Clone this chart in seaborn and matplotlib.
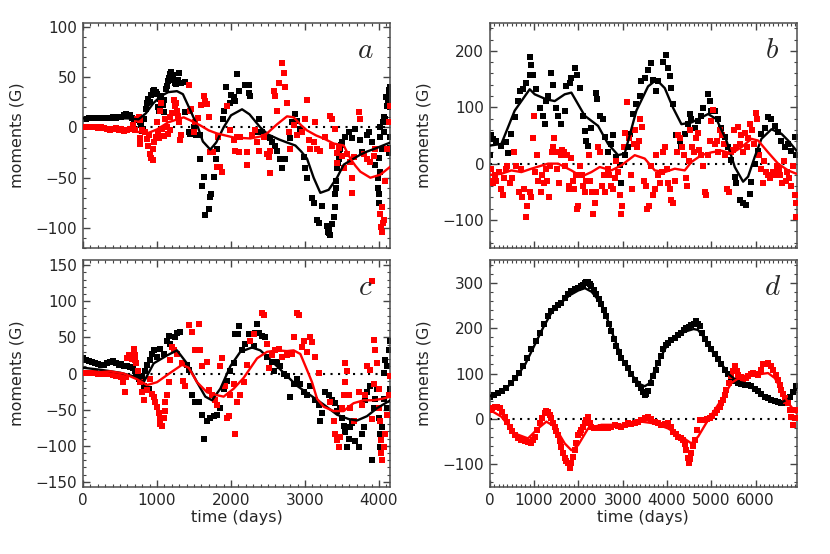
import numpy as np
import pandas as pd
import matplotlib
matplotlib.use("Agg")
import matplotlib.pyplot as plt
from matplotlib.ticker import MultipleLocator
import seaborn as sns

# ---- panel a (days / G) ----
a_black_pts = [(0, 8), (40, 8), (80, 9), (120, 9), (160, 9), (200, 9), (240, 9), (280, 9), (320, 9), (360, 9),
               (400, 10), (440, 9), (480, 10), (520, 10), (560, 12), (580, 13), (600, 11), (630, 12), (660, 9),
               (690, 8), (720, 7), (750, 8), (770, 5), (790, 2), (800, -4), (815, -2), (830, 8), (845, 18),
               (860, 24), (880, 28), (900, 25), (920, 32), (940, 36), (960, 37), (980, 35), (1000, 33), (1020, 20),
               (1030, 16), (1045, 28), (1060, 31), (1075, 22), (1090, 15), (1100, 27), (1115, 38), (1130, 41),
               (1150, 46), (1165, 49), (1180, 53), (1195, 55), (1210, 52), (1225, 47), (1240, 44), (1260, 43),
               (1280, 47), (1300, 54), (1320, 44), (1380, 45), (1380, 15), (1430, -5), (1450, -7), (1470, -5),
               (1495, 0), (1530, -8), (1576, -8), (1575, -31), (1610, -58), (1630, -49), (1650, -87), (1700, -81),
               (1720, -69), (1730, -66), (1774, -49), (1800, -31), (1810, -21), (1890, 8), (1910, 16), (1930, 40),
               (1980, 24), (2000, 32), (2035, 30), (2080, 53), (2058, 26), (2112, 36), (2193, 42), (2238, 42),
               (2238, 34), (2260, 31), (2373, 8), (2350, -5), (2418, -5), (2463, -8), (2486, -10), (2531, -11),
               (2553, -15), (2598, -18), (2621, -23), (2666, -31), (2689, -40), (2733, -31), (2801, -11), (2824, 5),
               (2869, 13), (2891, 6), (2936, -2), (2981, -29), (3004, -40), (3027, -50), (3094, -70), (3117, -75),
               (3162, -92), (3184, -95), (3229, -78), (3300, -98), (3310, -104), (3319, -102), (3330, -105),
               (3342, -107), (3364, -96), (3387, -89), (3400, -79), (3409, -66), (3415, -60), (3423, -53),
               (3432, -40), (3440, -35), (3454, -31), (3465, -25), (3477, -21), (3490, -17), (3500, -15),
               (3545, -10), (3590, -5), (3635, -11), (3680, -2), (3747, -13), (3770, -24), (3837, -8), (3860, -5),
               (3905, -15), (3927, -28), (3950, -37), (3986, -50), (3990, -60), (3995, -66), (4004, -75),
               (4000, -30), (4010, -10), (4018, -44), (4020, 0), (4040, -21), (4050, 5), (4063, -5), (4070, 10),
               (4085, 8), (4100, 30), (4108, 21), (4120, 25), (4130, 37), (4140, 31), (4145, 40), (4150, 20),
               (4150, -20), (4145, -10), (4130, -25)]
a_red_pts = [(0, 0), (40, 0), (80, 0), (120, 0), (160, 0), (200, -1), (240, 0), (280, -1), (320, -2), (360, -3),
             (400, -2), (440, -1), (480, -3), (520, -2), (560, -4), (600, -3), (640, -2), (680, 2), (700, -3),
             (730, 8), (750, 10), (770, 7), (765, -11), (765, -16), (800, -3), (840, -5), (860, -12), (880, -18),
             (890, -8), (910, -26), (925, -30), (940, -32), (950, -21), (960, -15), (980, -10), (1000, 5),
             (1010, -5), (1030, -11), (1045, 16), (1060, 24), (1070, -2), (1090, -9), (1110, 8), (1130, 0),
             (1150, -7), (1170, 10), (1180, -3), (1200, 14), (1230, 27), (1240, 21), (1255, 24), (1265, 16),
             (1280, 11), (1300, 5), (1315, -13), (1330, -8), (1430, 42), (1450, 16), (1460, 18), (1500, -5),
             (1520, 5), (1560, 9), (1600, 22), (1630, 31), (1650, 26), (1670, 23), (1700, 10), (1720, -24),
             (1760, -24), (1810, -39), (1856, -39), (1830, -10), (1880, -44), (1946, 21), (1980, -3), (2035, -13),
             (2050, -23), (2080, -10), (2103, -24), (2126, -10), (2216, -24), (2216, -37), (2283, -8), (2328, -3),
             (2350, -15), (2373, -23), (2441, -10), (2486, -26), (2508, -29), (2531, -23), (2531, -45), (2576, 36),
             (2598, 31), (2621, 16), (2643, 44), (2689, 64), (2711, 54), (2733, 40), (2756, 24), (2779, -5),
             (2801, -21), (2846, 2), (2891, -8), (2959, -5), (3004, 8), (3027, 27), (3049, -13), (3072, -21),
             (3117, -15), (3139, 5), (3162, -21), (3207, -23), (3274, -10), (3342, 11), (3364, 8), (3364, -18),
             (3409, -2), (3432, -25), (3432, -35), (3454, -20), (3500, -28), (3522, -40), (3567, -26), (3612, -34),
             (3635, -50), (3657, -29), (3635, -65), (3725, 15), (3747, 8), (3793, -26), (3837, -31), (3882, -34),
             (3927, -28), (3950, -21), (4018, -86), (4031, -99), (4040, -104), (4050, -95), (4063, -92),
             (4040, -79), (4085, -53), (4108, -21), (4130, 5), (4152, 21)]
a_black_line = [(0, 9), (400, 9), (600, 9), (750, 8), (850, 14), (950, 24), (1050, 31), (1150, 35), (1270, 36),
                (1350, 33), (1450, 17), (1554, 0), (1620, -14), (1720, -22), (1800, -15), (1900, 0), (2000, 12),
                (2149, 18), (2250, 13), (2396, 0), (2500, -7), (2650, -12), (2757, -15), (2870, -18), (2950, -24),
                (3027, -31), (3117, -50), (3207, -65), (3320, -62), (3432, -50), (3523, -37), (3658, -31),
                (3750, -27), (3838, -24), (3950, -21), (4018, -19), (4153, -15)]
a_red_line = [(0, 0), (300, 0), (550, -1), (700, -4), (865, -6), (1000, -2), (1150, 5), (1360, 10), (1450, 7),
              (1585, 2), (1700, -3), (1810, -6), (2036, -10), (2261, -11), (2400, -9), (2486, -6), (2621, 3),
              (2757, 11), (2847, 10), (2950, 2), (3027, -3), (3150, -8), (3252, -11), (3387, -16), (3523, -18),
              (3613, -31), (3680, -38), (3748, -44), (3883, -50), (4018, -47), (4153, -39)]

# ---- panel b ----
b_black_pts = [(0, 15), (20, 50), (75, 44), (150, 41), (263, 32), (376, 38), (414, 18), (489, 53), (564, 82),
               (640, 111), (677, 129), (752, 132), (828, 143), (903, 158), (918, 190), (940, 175), (978, 158),
               (1053, 132), (1129, 99), (1204, 85), (1241, 70), (1279, 111), (1317, 120), (1392, 161), (1430, 140),
               (1505, 99), (1542, 85), (1618, 70), (1693, 94), (1730, 137), (1806, 143), (1843, 152), (1919, 170),
               (1979, 158), (2031, 134), (2107, 85), (2144, 58), (2182, 41), (2220, 32), (2295, 64), (2408, 126),
               (2430, 114), (2483, 85), (2558, 79), (2596, 47), (2671, 20), (2746, 35), (2784, 50), (2859, 12),
               (2934, -3), (2972, -35), (3047, 15), (3122, 29), (3160, 53), (3235, 88), (3310, 105), (3386, 120),
               (3423, 146), (3499, 152), (3574, 167), (3649, 178), (3687, 149), (3762, 129), (3800, 146),
               (3912, 181), (3988, 193), (4025, 170), (4063, 155), (4101, 134), (4138, 105), (4213, 50), (4289, 41),
               (4326, 29), (4401, 53), (4477, 70), (4514, 88), (4552, 79), (4627, 64), (4703, 76), (4778, 85),
               (4816, 99), (4929, 123), (4966, 111), (5004, 94), (5079, 94), (5154, 79), (5229, 64), (5305, 47),
               (5380, 29), (5455, 6), (5530, -23), (5568, -35), (5643, -64), (5718, -70), (5793, -73), (5869, -53),
               (5906, -32), (5981, 0), (6057, 23), (6132, 53), (6207, 64), (6282, 82), (6358, 79), (6433, 67),
               (6508, 56), (6583, 41), (6659, 29), (6734, 35), (6809, 23), (6884, 47), (6907, 15)]
b_red_pts = [(0, -30), (40, -10), (75, -35), (110, -20), (150, -30), (200, -15), (250, -45), (290, -55),
             (330, -25), (370, -10), (400, -5), (450, -35), (500, -25), (550, 20), (600, -5), (650, -50), (700, -10),
             (740, -60), (780, -45), (810, -95), (850, -75), (900, -50), (930, -60), (970, 45), (1000, 85),
             (1030, -15), (1060, 15), (1100, -30), (1150, -50), (1180, -20), (1220, -35), (1260, -10), (1290, -30),
             (1330, -60), (1370, -5), (1400, 20), (1430, 30), (1460, 45), (1490, 20), (1520, -10), (1560, -35),
             (1600, 15), (1640, 25), (1680, 20), (1700, -5), (1740, 15), (1780, -40), (1800, -45), (1830, 10),
             (1870, -30), (1900, -45), (1940, -20), (1970, -80), (2000, -75), (2040, -5), (2080, -20), (2110, -40),
             (2150, -50), (2180, -30), (2230, 15), (2270, -30), (2300, -50), (2340, -90), (2380, -70), (2410, -50),
             (2450, 30), (2500, 20), (2530, -40), (2570, -20), (2610, -50), (2660, -10), (2700, -20), (2740, -40),
             (2780, -45), (2820, -25), (2860, 5), (2900, -15), (2940, -55), (2960, -90), (2990, -75), (3030, 30),
             (3060, 55), (3100, 110), (3140, 45), (3180, -20), (3220, -45), (3260, 35), (3290, 60), (3330, 30),
             (3370, 40), (3400, 80), (3440, 65), (3480, -30), (3520, -40), (3560, -80), (3600, -75), (3640, -5),
             (3680, -55), (3720, -45), (3760, 15), (3800, -20), (3840, -35), (3880, -15), (3920, 20), (3960, 30),
             (4000, -10), (4030, -35), (4060, -45), (4100, -65), (4140, -70), (4180, -30), (4220, 20), (4260, 50),
             (4300, 45), (4340, 30), (4380, 15), (4420, -25), (4460, -40), (4500, 5), (4530, 60), (4570, 30),
             (4610, 20), (4650, 45), (4690, 55), (4730, 25), (4770, 15), (4810, -5), (4850, -50), (4880, -55),
             (4920, 15), (4960, 40), (5000, 75), (5040, 95), (5080, 35), (5120, 40), (5160, 20), (5200, 60),
             (5240, 50), (5280, 35), (5320, 15), (5360, -45), (5400, -50), (5440, 20), (5480, 25), (5520, 60),
             (5560, 30), (5600, 65), (5640, 35), (5680, 50), (5720, 20), (5760, 55), (5800, 30), (5840, 45),
             (5880, 70), (5920, 60), (5960, 35), (6000, 90), (6040, 80), (6080, 15), (6120, -10), (6160, -35),
             (6200, 5), (6240, -15), (6280, -20), (6320, -25), (6360, -20), (6400, -15), (6440, -20), (6480, -5),
             (6520, -10), (6560, -20), (6600, -35), (6640, 5), (6680, -30), (6720, -15), (6760, -25), (6800, -40),
             (6850, -5), (6890, -55), (6910, -70), (6920, -95)]
b_black_line = [(0, 32), (263, 35), (564, 94), (903, 132), (1016, 123), (1279, 114), (1467, 111), (1693, 123),
                (1843, 126), (2144, 85), (2445, 67), (2671, 35), (2897, 15), (3047, 18), (3310, 94), (3574, 137),
                (3762, 149), (3950, 134), (4138, 99), (4326, 70), (4552, 73), (4778, 82), (4929, 88), (5116, 79),
                (5342, 41), (5530, -6), (5718, -32), (5831, -23), (5981, 12), (6132, 44), (6358, 61), (6583, 53),
                (6734, 41), (6922, 23)]
b_red_line = [(0, -20), (263, -18), (489, -12), (715, -15), (940, -9), (1317, 0), (1542, 0), (1843, -12),
              (2069, -23), (2295, -15), (2483, -6), (2746, -12), (2972, -3), (3273, 15), (3499, 9), (3725, -12),
              (3950, -15), (4176, -9), (4401, -12), (4552, 3), (4778, 15), (5004, 20), (5229, 23), (5455, 18),
              (5680, 29), (5906, 44), (6057, 41), (6282, 20), (6508, 0), (6734, -12), (6922, -18)]

# ---- panel c ----
c_black_pts = [(0, 21), (40, 19), (80, 17), (120, 16), (160, 14), (200, 13), (240, 12), (280, 12), (320, 14),
               (360, 16), (400, 17), (440, 14), (480, 12), (520, 13), (560, 11), (600, 10), (640, 9), (680, 8),
               (700, 4), (720, -2), (740, 0), (760, -8), (780, -10), (800, -4), (820, -17), (842, 3), (865, 12),
               (887, -21), (910, 19), (932, 27), (955, 32), (1000, 23), (1045, 34), (1090, 27), (1135, 45),
               (1158, 52), (1180, 41), (1225, 32), (1248, 50), (1270, 56), (1315, 58), (1405, 12), (1428, 5),
               (1473, -30), (1518, -39), (1563, -40), (1608, -57), (1640, -90), (1676, -65), (1721, -61),
               (1766, -59), (1811, -57), (1856, -48), (1901, -21), (1946, -10), (1991, 3), (2036, 14), (2059, 54),
               (2090, 54), (2104, 66), (2149, 32), (2194, 41), (2239, 54), (2307, 38), (2329, 56), (2352, 69),
               (2374, 56), (2419, 52), (2464, 50), (2487, 23), (2554, 16), (2577, 3), (2622, 16), (2667, 10),
               (2712, -1), (2757, -4), (2802, -32), (2847, -15), (2892, -8), (2937, -15), (2982, -26), (3027, -30),
               (3072, -17), (3140, -37), (3185, -43), (3208, -65), (3230, -54), (3275, -26), (3320, -30),
               (3365, -37), (3410, -41), (3433, -52), (3478, -48), (3500, -61), (3523, -72), (3545, -81),
               (3568, -101), (3590, -90), (3613, -74), (3635, -68), (3680, -94), (3726, -101), (3771, -83),
               (3793, -74), (3816, -37), (3838, -26), (3883, -17), (3906, -119), (3928, -48), (3951, -35),
               (3973, -21), (3996, -61), (4009, -83), (4018, -101), (4027, -110), (4041, -74), (4063, -35),
               (4072, 1), (4086, 19), (4108, 10), (4131, 32), (4145, 45), (4145, -21), (4108, -48)]
c_red_pts = [(0, 1), (40, 1), (80, 1), (120, 1), (160, 1), (200, 0), (240, 0), (280, 0), (320, -1), (360, -1),
             (400, -2), (440, -3), (480, -3), (520, -5), (540, -12), (563, -26), (580, -5), (600, 22), (620, 25),
             (640, 23), (660, 20), (685, 34), (700, 25), (707, 19), (720, 14), (740, 3), (775, -12), (797, -26),
             (820, -37), (865, -23), (910, -8), (932, -28), (955, -32), (977, -39), (1000, -46), (1023, -54),
             (1036, -63), (1045, -70), (1068, -72), (1090, -61), (1113, -52), (1113, -39), (1135, -30),
             (1158, -12), (1180, 19), (1203, 36), (1225, 32), (1270, 27), (1338, 14), (1351, -10), (1383, -17),
             (1428, 67), (1473, 58), (1518, 32), (1563, 68), (1586, 32), (1608, 10), (1676, 16), (1698, -23),
             (1743, -30), (1788, -37), (1811, -43), (1856, 10), (1878, 21), (1924, -17), (1946, -61), (1969, -59),
             (1991, -30), (2036, -15), (2059, -83), (2081, -39), (2126, -30), (2171, -12), (2216, 12), (2261, 45),
             (2307, 54), (2419, 83), (2442, 81), (2487, 41), (2509, 8), (2554, 25), (2599, 32), (2644, 34),
             (2690, 23), (2757, 25), (2825, 27), (2847, 50), (2892, 83), (2915, 81), (2960, 36), (2982, 45),
             (3027, 30), (3072, 50), (3095, 43), (3140, 23), (3185, 1), (3343, -39), (3388, -65), (3410, -83),
             (3433, -92), (3455, -101), (3478, -88), (3500, -48), (3523, -30), (3545, -12), (3545, 14), (3568, 3),
             (3590, -30), (3613, -48), (3658, -65), (3726, -26), (3771, -43), (3816, -30), (3838, 10), (3883, 5),
             (3906, -63), (3906, 128), (3928, 47), (3951, 32), (3973, 14), (3928, -15), (3996, -21), (4005, -48),
             (4018, -65), (4025, -92), (4032, -110), (4041, -119), (4063, -101), (4085, -83), (4108, -57),
             (4131, -30), (4145, -4)]
c_black_line = [(0, 8), (250, 5), (505, 1), (685, -4), (820, -12), (955, 14), (1135, 25), (1270, 32), (1405, 14),
                (1541, -12), (1653, -32), (1743, -37), (1856, -21), (1991, 10), (2126, 30), (2284, 36), (2397, 32),
                (2532, 19), (2712, 1), (2892, -17), (3072, -30), (3253, -43), (3433, -57), (3590, -63),
                (3703, -65), (3838, -59), (3973, -48), (4153, -37)]
c_red_line = [(0, 0), (370, 3), (550, 0), (730, -8), (865, -16), (1000, -12), (1180, 1), (1338, 12), (1428, 8),
              (1541, -12), (1676, -26), (1811, -30), (1901, -32), (2036, -21), (2171, -6), (2352, 21), (2487, 30),
              (2622, 32), (2757, 31), (2847, 32), (2937, 27), (3027, 5), (3095, -12), (3163, -35), (3253, -46),
              (3388, -52), (3523, -52), (3590, -46), (3658, -41), (3793, -37), (3928, -37), (4041, -35),
              (4153, -32)]

# ---- panel d ----
d_black_pts = [(0, 49), (94, 52), (188, 57), (282, 62), (376, 68), (470, 78), (564, 90), (658, 102), (752, 116),
               (846, 134), (940, 153), (1035, 172), (1129, 190), (1223, 208), (1317, 227), (1392, 238),
               (1467, 245), (1543, 250), (1618, 256), (1693, 266), (1768, 275), (1843, 281), (1919, 286),
               (1994, 289), (2069, 292), (2107, 296), (2144, 300), (2182, 302), (2220, 302), (2257, 298),
               (2295, 293), (2352, 285), (2408, 275), (2465, 264), (2521, 252), (2577, 240), (2633, 227),
               (2690, 210), (2746, 193), (2803, 176), (2859, 160), (2915, 147), (2972, 134), (3047, 123),
               (3122, 112), (3198, 99), (3273, 86), (3348, 77), (3423, 68), (3461, 60), (3499, 53), (3537, 55),
               (3574, 61), (3630, 78), (3687, 94), (3743, 108), (3800, 123), (3856, 138), (3912, 153), (3968, 162),
               (4025, 168), (4100, 174), (4176, 179), (4251, 185), (4326, 190), (4383, 196), (4439, 201),
               (4495, 203), (4552, 206), (4608, 210), (4665, 215), (4703, 210), (4740, 204), (4797, 190),
               (4853, 175), (4929, 164), (5004, 153), (5079, 142), (5154, 131), (5230, 120), (5305, 108),
               (5380, 99), (5455, 90), (5530, 84), (5605, 79), (5680, 77), (5756, 75), (5831, 74), (5906, 72),
               (5981, 66), (6057, 61), (6132, 55), (6207, 49), (6282, 45), (6358, 42), (6433, 40), (6508, 38),
               (6583, 36), (6659, 35), (6715, 41), (6772, 49), (6847, 60), (6922, 72)]
d_red_pts = [(0, 20), (56, 24), (113, 27), (170, 26), (226, 24), (283, 16), (339, 5), (395, -6), (451, -17),
             (508, -26), (564, -35), (640, -41), (715, -46), (790, -48), (865, -50), (940, -54), (978, -47),
             (1016, -39), (1072, -25), (1129, -10), (1185, 2), (1241, 13), (1279, 17), (1317, 16), (1354, 9),
             (1392, 1), (1430, -8), (1467, -17), (1505, -26), (1542, -35), (1580, -48), (1618, -61), (1655, -74),
             (1693, -87), (1730, -92), (1768, -98), (1806, -109), (1843, -96), (1881, -83), (1919, -69),
             (1956, -52), (1994, -35), (2031, -30), (2069, -24), (2107, -17), (2144, -10), (2182, -2), (2220, 5),
             (2257, -8), (2295, -17), (2352, -19), (2408, -21), (2465, -19), (2521, -17), (2596, -20),
             (2671, -21), (2746, -17), (2822, -13), (2897, -15), (2972, -17), (3047, -13), (3122, -10),
             (3198, -12), (3273, -10), (3348, -6), (3423, -2), (3499, 2), (3574, 5), (3650, 0), (3725, -6),
             (3800, -10), (3875, -13), (3950, -12), (4025, -10), (4082, -18), (4138, -28), (4195, -33),
             (4251, -39), (4308, -43), (4364, -46), (4402, -56), (4439, -69), (4467, -85), (4492, -98),
             (4522, -88), (4552, -76), (4590, -60), (4627, -46), (4684, -24), (4740, -2), (4797, -2), (4853, -2),
             (4910, 0), (4966, 1), (5023, 7), (5079, 13), (5136, 20), (5192, 27), (5230, 35), (5267, 42),
             (5305, 53), (5342, 64), (5398, 80), (5455, 94), (5500, 105), (5545, 116), (5575, 106), (5605, 97),
             (5662, 92), (5718, 86), (5775, 90), (5831, 94), (5887, 98), (5944, 101), (6000, 99), (6057, 97),
             (6113, 108), (6170, 120), (6226, 122), (6282, 123), (6339, 116), (6395, 108), (6452, 97),
             (6508, 86), (6545, 75), (6583, 64), (6621, 55), (6659, 46), (6697, 40), (6734, 35), (6772, 20),
             (6809, 5), (6847, -13), (6885, 3), (6922, 20)]
d_black_line = [(0, 50), (200, 57), (400, 70), (600, 92), (800, 120), (1000, 160), (1200, 200), (1400, 235),
                (1600, 255), (1800, 272), (2000, 283), (2150, 288), (2300, 280), (2450, 262), (2600, 235),
                (2800, 180), (3000, 130), (3200, 97), (3400, 76), (3500, 72), (3600, 78), (3800, 125), (4000, 162),
                (4200, 180), (4400, 192), (4600, 198), (4700, 196), (4850, 178), (5000, 152), (5200, 125),
                (5400, 98), (5600, 82), (5800, 78), (6000, 62), (6200, 47), (6400, 38), (6600, 37), (6750, 45),
                (6930, 66)]
d_red_line = [(0, 20), (263, 5), (564, -32), (865, -43), (1091, -21), (1279, -6), (1467, -17), (1693, -54),
              (1843, -69), (1994, -58), (2220, -21), (2521, -13), (2972, -13), (3423, -6), (3725, -10),
              (4025, -21), (4326, -39), (4552, -54), (4703, -39), (4929, -2), (5229, 42), (5455, 79), (5680, 94),
              (5981, 97), (6282, 101), (6433, 90), (6583, 64), (6734, 35), (6922, 13)]

panel_letters = ["a", "b", "c", "d"]

sns.set_theme(style="white")
plt.rcParams["font.family"] = ["DejaVu Sans"]
plt.rcParams["mathtext.fontset"] = "cm"
plt.rcParams["axes.edgecolor"] = "#4d4d4d"
plt.rcParams["axes.linewidth"] = 1.1

RED = "#ff0000"
TXT = "#262626"


def to_df(pts):
    return pd.DataFrame(pts, columns=["t", "m"])


def draw_panel(ax, black_pts, red_pts, black_line, red_line, xlim, ylim, ymaj, ymin, letter, show_x):
    ax.axhline(0, color="black", lw=1.5, ls=(0, (1, 2.6)), zorder=1)
    bp, rp = to_df(black_pts), to_df(red_pts)
    sns.scatterplot(data=bp, x="t", y="m", ax=ax, color="black", marker="s", s=14, linewidth=0, zorder=2)
    sns.scatterplot(data=rp, x="t", y="m", ax=ax, color=RED, marker="s", s=14, linewidth=0, zorder=3)
    sns.lineplot(data=to_df(black_line), x="t", y="m", ax=ax, color="black", lw=1.7,
                 sort=False, estimator=None, zorder=4)
    sns.lineplot(data=to_df(red_line), x="t", y="m", ax=ax, color=RED, lw=1.7,
                 sort=False, estimator=None, zorder=5)
    ax.set_xlim(*xlim)
    ax.set_ylim(*ylim)
    ax.xaxis.set_major_locator(MultipleLocator(1000))
    ax.xaxis.set_minor_locator(MultipleLocator(100))
    ax.yaxis.set_major_locator(MultipleLocator(ymaj))
    ax.yaxis.set_minor_locator(MultipleLocator(ymin))
    ax.tick_params(which="both", direction="in", top=True, right=True, left=True, bottom=True,
                   color="#444444", labelsize=11, labelcolor=TXT)
    ax.tick_params(which="major", length=5, width=1.0, pad=4)
    ax.tick_params(which="minor", length=2.5, width=0.8)
    ax.set_ylabel("moments (G)", fontsize=11.5, color=TXT, labelpad=8)
    if show_x:
        ax.set_xlabel("time (days)", fontsize=11.5, color=TXT, labelpad=2)
    else:
        ax.set_xlabel("")
        ax.tick_params(labelbottom=False)
    ax.text(0.92, 0.88, "$" + letter + "$", transform=ax.transAxes, fontsize=21,
            ha="center", va="center", color=TXT)
    for s in ax.spines.values():
        s.set_visible(True)


fig = plt.figure(figsize=(8.3, 5.54), dpi=100)
ax_a = fig.add_axes([0.100, 0.5520, 0.370, 0.4070])
ax_b = fig.add_axes([0.590, 0.5520, 0.370, 0.4070])
ax_c = fig.add_axes([0.100, 0.1209, 0.370, 0.4098])
ax_d = fig.add_axes([0.590, 0.1209, 0.370, 0.4098])

draw_panel(ax_a, a_black_pts, a_red_pts, a_black_line, a_red_line, (0, 4150), (-120, 104), 50, 10,
           panel_letters[0], False)
draw_panel(ax_b, b_black_pts, b_red_pts, b_black_line, b_red_line, (0, 6930), (-150, 250), 100, 20,
           panel_letters[1], False)
draw_panel(ax_c, c_black_pts, c_red_pts, c_black_line, c_red_line, (0, 4150), (-157, 157), 50, 10,
           panel_letters[2], True)
draw_panel(ax_d, d_black_pts, d_red_pts, d_black_line, d_red_line, (0, 6930), (-150, 350), 100, 20,
           panel_letters[3], True)

fig.savefig("out.png", dpi=100)
